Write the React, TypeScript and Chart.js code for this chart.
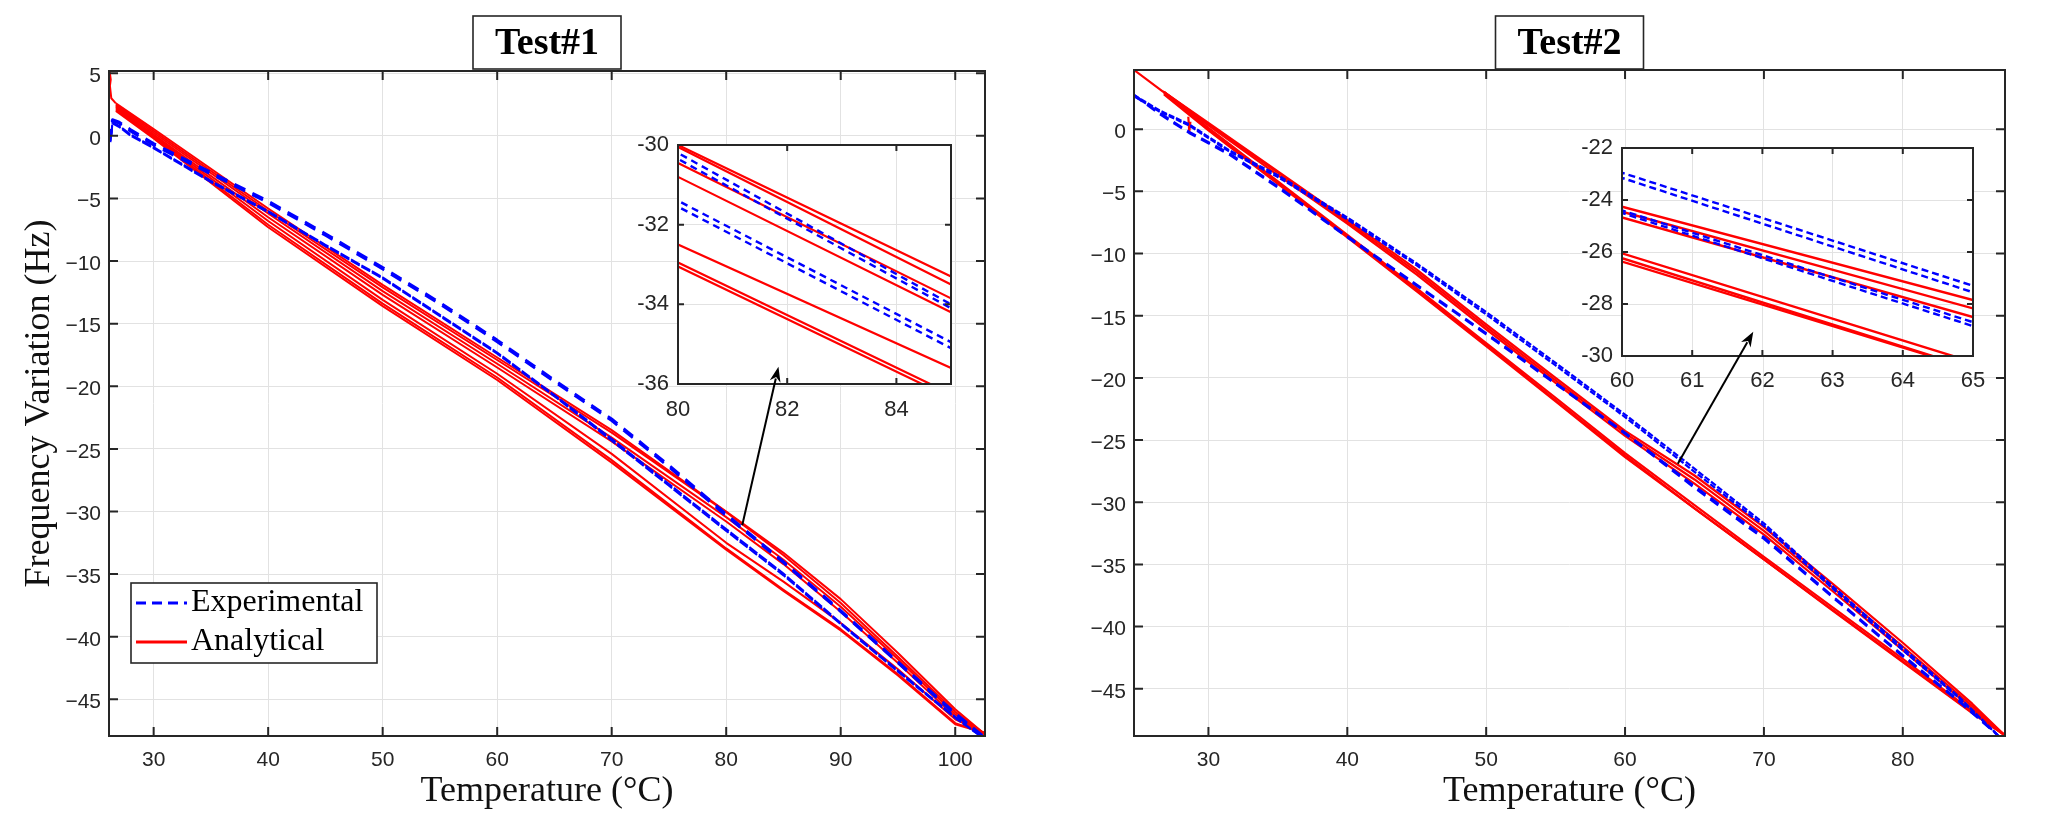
import React, { useEffect, useRef } from 'react';
import { Chart, registerables } from 'chart.js';

Chart.register(...registerables);

// ---------------- page constants ----------------
const W = 1024;
const H = 827;
const RED = '#ff0000';
const BLUE = '#0000ff';
const INK = '#262626';
const GRID = '#e2e2e2';
const SANS = "'Liberation Sans', Arial, sans-serif";
const SERIF = "'Liberation Serif', 'Times New Roman', serif";

// ---------------- Test #1 data ----------------
const T1_EXP_A_X = [26.2, 26.3, 26.25, 26.4, 27, 28, 30, 35, 40, 45, 50, 55, 60, 65, 70, 75, 80, 85, 90, 95, 100, 102.4];
const T1_EXP_A1_Y = [-0.4, 0.5, 0.9, 1.3, 1.1, 0.5, -0.6, -2.9, -5.2, -7.8, -10.5, -13.3, -16.3, -19.5, -22.6, -26.3, -30.2, -34.0, -37.9, -42.0, -46.1, -47.9];
const T1_EXP_A2_Y = [-0.5, 0.4, 0.8, 1.2, 1.0, 0.35, -0.75, -3.05, -5.35, -7.95, -10.65, -13.45, -16.45, -19.65, -22.75, -26.45, -30.35, -34.1, -38.0, -42.1, -46.2, -47.95];

const T1_EXP_B_X = [26.3, 26.4, 27, 28, 30, 35, 40, 45, 50, 55, 60, 65, 70, 75, 80, 85, 90, 95, 100, 102.3];
const T1_EXP_B1_Y = [0.1, 1.1, 0.8, 0.1, -0.9, -3.6, -6.0, -8.7, -11.3, -14.3, -17.3, -20.7, -24.2, -27.8, -31.4, -34.95, -38.9, -42.7, -46.4, -48.0];
const T1_EXP_B2_Y = [0.0, 1.0, 0.7, 0.0, -1.0, -3.7, -6.1, -8.8, -11.4, -14.4, -17.4, -20.8, -24.35, -27.95, -31.55, -35.1, -39.0, -42.8, -46.5, -48.0];

const T1_SPIKE_X = [26.15, 26.25, 26.18, 26.3, 26.7];
const T1_SPIKE_Y = [5.2, 4.5, 4.0, 3.0, 2.6];

const T1_ANA_X = [26.7, 30, 40, 50, 60, 70, 80, 85, 90, 95, 100, 102.6];
const T1_ANA_1_Y = [2.6, 0.55, -5.8, -11.9, -17.7, -23.5, -30.0, -33.3, -37.0, -41.3, -45.8, -47.8];
const T1_ANA_2_Y = [2.5, 0.4, -6.0, -12.1, -17.9, -23.7, -30.05, -33.5, -37.3, -41.6, -46.0, -47.8];
const T1_ANA_3_Y = [2.4, 0.25, -6.2, -12.4, -18.2, -24.1, -30.45, -33.85, -37.6, -41.8, -46.2, -47.8];
const T1_ANA_4_Y = [2.3, 0.1, -6.5, -12.7, -18.5, -24.4, -30.8, -34.2, -38.0, -42.1, -46.4, -47.8];
const T1_ANA_5_Y = [2.2, 0.0, -6.8, -13.1, -19.0, -25.4, -32.5, -35.6, -38.9, -42.6, -46.6, -47.7];
const T1_ANA_6_Y = [2.1, -0.1, -7.1, -13.4, -19.3, -25.9, -32.95, -36.25, -39.4, -43.0, -46.9, -47.7];
const T1_ANA_7_Y = [2.0, -0.2, -7.3, -13.6, -19.5, -26.1, -33.05, -36.35, -39.5, -43.1, -47.0, -47.7];

const T1_X_RANGE = [26.1, 102.6];
const T1_Y_RANGE = [-47.93, 5.18];
const T1_INSET_X_RANGE = [80, 85];
const T1_INSET_Y_RANGE = [-36, -30];
const T1_ARROW_FROM = [81.4, -31.1];   // main-axes coordinates
const T1_ARROW_TO = [81.84, -35.57];   // inset-axes coordinates

// ---------------- Test #2 data ----------------
const T2_EXP_X = [24.64, 26.5, 28.6, 31.5, 35, 40, 45, 50, 55, 60, 65, 70, 75, 80, 84, 86.9];
const T2_EXP_A1_Y = [2.75, 1.5, 0.4, -1.7, -3.7, -7.1, -10.8, -14.7, -18.8, -22.95, -27.3, -31.7, -36.8, -41.7, -45.6, -48.8];
const T2_EXP_A2_Y = [2.65, 1.4, 0.3, -1.8, -3.85, -7.25, -10.95, -14.9, -19.0, -23.15, -27.55, -31.9, -37.0, -41.9, -45.7, -48.8];
const T2_EXP_B1_Y = [2.75, 1.3, -0.2, -1.93, -4.6, -8.6, -12.5, -16.4, -20.4, -24.4, -28.7, -32.8, -37.6, -42.3, -45.9, -48.8];
const T2_EXP_B2_Y = [2.7, 1.2, -0.3, -2.05, -4.7, -8.7, -12.6, -16.5, -20.5, -24.5, -28.85, -32.95, -37.7, -42.4, -46.0, -48.8];

const T2_ANA_U1_X = [24.64, 26.7, 30, 35, 40, 45, 50, 55, 60, 65, 70, 75, 80, 85, 87.3];
const T2_ANA_U1_Y = [4.76, 3.05, 0.5, -3.4, -7.3, -11.3, -15.7, -20.0, -24.26, -27.85, -32.0, -36.6, -41.3, -46.2, -48.7];
const T2_ANA_X = [26.8, 30, 35, 40, 45, 50, 55, 60, 65, 70, 75, 80, 85, 87.3];
const T2_ANA_U2_Y = [3.0, 0.4, -3.5, -7.45, -11.5, -15.9, -20.2, -24.45, -28.17, -32.3, -36.9, -41.6, -46.4, -48.7];
const T2_ANA_U3_Y = [2.9, 0.3, -3.7, -7.6, -11.7, -16.1, -20.4, -24.67, -28.5, -32.6, -37.2, -41.9, -46.6, -48.7];
const T2_ANA_L1_Y = [3.0, 0.1, -4.2, -8.5, -12.8, -17.2, -21.6, -26.05, -30.24, -34.4, -38.5, -42.6, -46.8, -48.7];
const T2_ANA_L2_Y = [2.9, 0.0, -4.3, -8.6, -12.95, -17.35, -21.8, -26.24, -30.49, -34.6, -38.7, -42.8, -46.9, -48.7];
const T2_ANA_L3_Y = [2.8, -0.1, -4.4, -8.7, -13.05, -17.45, -21.9, -26.37, -30.5, -34.6, -38.75, -42.85, -46.95, -48.7];
const T2_SPIKE_X = [28.55, 28.62, 28.7];
const T2_SPIKE_Y = [1.0, -0.2, 0.6];

const T2_X_RANGE = [24.64, 87.36];
const T2_Y_RANGE = [-48.8, 4.76];
const T2_INSET_X_RANGE = [60, 65];
const T2_INSET_Y_RANGE = [-30, -22];
const T2_ARROW_FROM = [63.8, -26.9];
const T2_ARROW_TO = [61.87, -29.07];

// ---------------- helpers ----------------
type Style = { w: number; dash: number[] };
type Series = { label: string; xs: number[]; ys: number[]; color: string; main: Style; inset: Style };

const EXP = 'Experimental';
const ANA = 'Analytical';

function lineDs(s: Series, st: Style) {
  return {
    label: s.label,
    data: s.xs.map((x, i) => ({ x, y: s.ys[i] })),
    borderColor: s.color,
    backgroundColor: s.color,
    borderWidth: st.w,
    borderDash: st.dash,
    borderCapStyle: 'butt',
    borderJoinStyle: 'round',
    pointRadius: 0,
    pointHoverRadius: 0,
    fill: false,
    tension: 0,
  };
}

const minusFmt = (v: number) => (v < 0 ? '\u2212' + Math.abs(v) : String(v));

const T1_SERIES: Series[] = [
  { label: EXP, xs: T1_EXP_A_X, ys: T1_EXP_A1_Y, color: BLUE, main: { w: 2.6, dash: [12, 8] }, inset: { w: 2.4, dash: [7, 5] } },
  { label: EXP, xs: T1_EXP_A_X, ys: T1_EXP_A2_Y, color: BLUE, main: { w: 2.6, dash: [12, 8] }, inset: { w: 2.4, dash: [7, 5] } },
  { label: EXP, xs: T1_EXP_B_X, ys: T1_EXP_B1_Y, color: BLUE, main: { w: 2.0, dash: [10, 2] }, inset: { w: 2.4, dash: [7, 5] } },
  { label: EXP, xs: T1_EXP_B_X, ys: T1_EXP_B2_Y, color: BLUE, main: { w: 2.0, dash: [10, 2] }, inset: { w: 2.4, dash: [7, 5] } },
  { label: ANA, xs: T1_SPIKE_X, ys: T1_SPIKE_Y, color: RED, main: { w: 2.0, dash: [] }, inset: { w: 2.2, dash: [] } },
  { label: ANA, xs: T1_ANA_X, ys: T1_ANA_1_Y, color: RED, main: { w: 2.0, dash: [] }, inset: { w: 2.2, dash: [] } },
  { label: ANA, xs: T1_ANA_X, ys: T1_ANA_2_Y, color: RED, main: { w: 2.0, dash: [] }, inset: { w: 2.2, dash: [] } },
  { label: ANA, xs: T1_ANA_X, ys: T1_ANA_3_Y, color: RED, main: { w: 2.0, dash: [] }, inset: { w: 2.2, dash: [] } },
  { label: ANA, xs: T1_ANA_X, ys: T1_ANA_4_Y, color: RED, main: { w: 2.0, dash: [] }, inset: { w: 2.2, dash: [] } },
  { label: ANA, xs: T1_ANA_X, ys: T1_ANA_5_Y, color: RED, main: { w: 2.0, dash: [] }, inset: { w: 2.2, dash: [] } },
  { label: ANA, xs: T1_ANA_X, ys: T1_ANA_6_Y, color: RED, main: { w: 2.0, dash: [] }, inset: { w: 2.2, dash: [] } },
  { label: ANA, xs: T1_ANA_X, ys: T1_ANA_7_Y, color: RED, main: { w: 2.0, dash: [] }, inset: { w: 2.2, dash: [] } },
];

const T2_SERIES: Series[] = [
  { label: EXP, xs: T2_EXP_X, ys: T2_EXP_A1_Y, color: BLUE, main: { w: 2.2, dash: [6, 2] }, inset: { w: 2.4, dash: [7, 4] } },
  { label: EXP, xs: T2_EXP_X, ys: T2_EXP_A2_Y, color: BLUE, main: { w: 2.2, dash: [6, 2] }, inset: { w: 2.4, dash: [7, 4] } },
  { label: EXP, xs: T2_EXP_X, ys: T2_EXP_B1_Y, color: BLUE, main: { w: 2.2, dash: [10, 6] }, inset: { w: 2.4, dash: [7, 4] } },
  { label: EXP, xs: T2_EXP_X, ys: T2_EXP_B2_Y, color: BLUE, main: { w: 2.2, dash: [10, 6] }, inset: { w: 2.4, dash: [7, 4] } },
  { label: ANA, xs: T2_SPIKE_X, ys: T2_SPIKE_Y, color: RED, main: { w: 2.2, dash: [] }, inset: { w: 2.4, dash: [] } },
  { label: ANA, xs: T2_ANA_U1_X, ys: T2_ANA_U1_Y, color: RED, main: { w: 2.2, dash: [] }, inset: { w: 2.4, dash: [] } },
  { label: ANA, xs: T2_ANA_X, ys: T2_ANA_U2_Y, color: RED, main: { w: 2.2, dash: [] }, inset: { w: 2.4, dash: [] } },
  { label: ANA, xs: T2_ANA_X, ys: T2_ANA_U3_Y, color: RED, main: { w: 2.2, dash: [] }, inset: { w: 2.4, dash: [] } },
  { label: ANA, xs: T2_ANA_X, ys: T2_ANA_L1_Y, color: RED, main: { w: 2.2, dash: [] }, inset: { w: 2.4, dash: [] } },
  { label: ANA, xs: T2_ANA_X, ys: T2_ANA_L2_Y, color: RED, main: { w: 2.2, dash: [] }, inset: { w: 2.4, dash: [] } },
  { label: ANA, xs: T2_ANA_X, ys: T2_ANA_L3_Y, color: RED, main: { w: 2.2, dash: [] }, inset: { w: 2.4, dash: [] } },
];

// ---------------- plugins ----------------
const boxTicksPlugin = {
  id: 'boxTicks',
  afterDatasetsDraw(chart: any, _a: any, opts: any) {
    const { ctx, chartArea: a, scales } = chart;
    const len = opts.len;
    ctx.save();
    ctx.strokeStyle = INK;
    ctx.lineWidth = opts.lw;
    ctx.setLineDash([]);
    ctx.beginPath();
    for (const t of scales.x.ticks) {
      const px = scales.x.getPixelForValue(t.value);
      ctx.moveTo(px, a.bottom); ctx.lineTo(px, a.bottom - len);
      ctx.moveTo(px, a.top); ctx.lineTo(px, a.top + len);
    }
    for (const t of scales.y.ticks) {
      const py = scales.y.getPixelForValue(t.value);
      ctx.moveTo(a.left, py); ctx.lineTo(a.left + len, py);
      ctx.moveTo(a.right, py); ctx.lineTo(a.right - len, py);
    }
    ctx.stroke();
    ctx.strokeRect(a.left, a.top, a.right - a.left, a.bottom - a.top);
    ctx.restore();
  },
};

const frameTitlePlugin = {
  id: 'frameTitle',
  afterDraw(chart: any, _a: any, opts: any) {
    if (!opts || !opts.text) return;
    const { ctx, chartArea: a } = chart;
    const cx = (a.left + a.right) / 2;
    const x0 = cx - opts.width / 2;
    ctx.save();
    ctx.fillStyle = '#ffffff';
    ctx.fillRect(x0, opts.top, opts.width, opts.height);
    ctx.strokeStyle = INK;
    ctx.lineWidth = 1.6;
    ctx.strokeRect(x0, opts.top, opts.width, opts.height);
    ctx.font = `bold ${opts.size}px ${SERIF}`;
    ctx.fillStyle = '#000000';
    ctx.textAlign = 'center';
    ctx.textBaseline = 'middle';
    ctx.fillText(opts.text, cx, opts.top + opts.height / 2 + 2);
    ctx.restore();
  },
};

const boxLegendPlugin = {
  id: 'boxLegend',
  afterDraw(chart: any, _a: any, opts: any) {
    if (!opts || !opts.show) return;
    const { ctx } = chart;
    const seen: string[] = [];
    const items: any[] = [];
    chart.data.datasets.forEach((d: any) => {
      if (seen.indexOf(d.label) < 0) { seen.push(d.label); items.push(d); }
    });
    ctx.save();
    ctx.fillStyle = '#ffffff';
    ctx.fillRect(opts.left, opts.top, opts.width, opts.height);
    ctx.strokeStyle = INK;
    ctx.lineWidth = 1.6;
    ctx.strokeRect(opts.left, opts.top, opts.width, opts.height);
    ctx.font = `${opts.size}px ${SERIF}`;
    ctx.textBaseline = 'middle';
    ctx.textAlign = 'left';
    items.forEach((d, i) => {
      const y = opts.rows[i];
      ctx.strokeStyle = d.borderColor;
      ctx.lineWidth = 3;
      ctx.setLineDash(d.label === EXP ? [10, 6] : []);
      ctx.beginPath();
      ctx.moveTo(opts.sx0, y);
      ctx.lineTo(opts.sx1, y);
      ctx.stroke();
      ctx.setLineDash([]);
      ctx.fillStyle = '#000000';
      ctx.fillText(d.label, opts.tx, y);
    });
    ctx.restore();
  },
};

const insetBgPlugin = {
  id: 'insetBg',
  beforeDraw(chart: any) {
    const { ctx, chartArea: a } = chart;
    ctx.save();
    ctx.fillStyle = '#ffffff';
    ctx.fillRect(a.left, a.top, a.right - a.left, a.bottom - a.top);
    ctx.restore();
  },
};

function makeArrowPlugin(main: any, from: number[], to: number[]) {
  return {
    id: 'arrow',
    afterDraw(chart: any) {
      const { ctx } = chart;
      const x0 = main.scales.x.getPixelForValue(from[0]);
      const y0 = main.scales.y.getPixelForValue(from[1]);
      const x1 = chart.scales.x.getPixelForValue(to[0]);
      const y1 = chart.scales.y.getPixelForValue(to[1]);
      const ang = Math.atan2(y1 - y0, x1 - x0);
      const hl = 15, hw = 5.5;
      ctx.save();
      ctx.strokeStyle = '#000000';
      ctx.fillStyle = '#000000';
      ctx.lineWidth = 2;
      ctx.beginPath();
      ctx.moveTo(x0, y0);
      ctx.lineTo(x1 - Math.cos(ang) * hl * 0.8, y1 - Math.sin(ang) * hl * 0.8);
      ctx.stroke();
      ctx.beginPath();
      ctx.moveTo(x1, y1);
      ctx.lineTo(x1 - Math.cos(ang) * hl - Math.sin(ang) * hw, y1 - Math.sin(ang) * hl + Math.cos(ang) * hw);
      ctx.lineTo(x1 - Math.cos(ang) * hl * 0.7, y1 - Math.sin(ang) * hl * 0.7);
      ctx.lineTo(x1 - Math.cos(ang) * hl + Math.sin(ang) * hw, y1 - Math.sin(ang) * hl - Math.cos(ang) * hw);
      ctx.closePath();
      ctx.fill();
      ctx.restore();
    },
  };
}

// ---------------- panel specs ----------------
type Area = { left: number; right: number; top: number; bottom: number };
type PanelSpec = {
  offsetX: number;
  area: Area;
  xRange: number[];
  yRange: number[];
  title: string;
  yTitle: string;
  legend: boolean;
  series: Series[];
  inset: { area: Area; xRange: number[]; yRange: number[]; xStep: number; yStep: number; xPad: number; yPad: number };
  arrowFrom: number[];
  arrowTo: number[];
};

const PANELS: PanelSpec[] = [
  {
    offsetX: 0,
    area: { left: 109, right: 985, top: 71, bottom: 736 },
    xRange: T1_X_RANGE,
    yRange: T1_Y_RANGE,
    title: 'Test#1',
    yTitle: 'Frequency Variation (Hz)',
    legend: true,
    series: T1_SERIES,
    inset: { area: { left: 678, right: 951, top: 145, bottom: 384 }, xRange: T1_INSET_X_RANGE, yRange: T1_INSET_Y_RANGE, xStep: 2, yStep: 2, xPad: 13, yPad: 9 },
    arrowFrom: T1_ARROW_FROM,
    arrowTo: T1_ARROW_TO,
  },
  {
    offsetX: 1024,
    area: { left: 110, right: 981, top: 70, bottom: 736 },
    xRange: T2_X_RANGE,
    yRange: T2_Y_RANGE,
    title: 'Test#2',
    yTitle: '',
    legend: false,
    series: T2_SERIES,
    inset: { area: { left: 598, right: 949, top: 148, bottom: 356 }, xRange: T2_INSET_X_RANGE, yRange: T2_INSET_Y_RANGE, xStep: 1, yStep: 2, xPad: 12, yPad: 9 },
    arrowFrom: T2_ARROW_FROM,
    arrowTo: T2_ARROW_TO,
  },
];

function mainConfig(p: PanelSpec): any {
  const a = p.area;
  return {
    type: 'line',
    data: { datasets: p.series.map((s) => lineDs(s, s.main)) },
    options: {
      animation: false,
      responsive: false,
      events: [],
      layout: { padding: { left: 0, top: a.top, right: W - a.right, bottom: 0 } },
      plugins: {
        legend: { display: false },
        tooltip: { enabled: false },
        title: { display: false },
        boxTicks: { len: 9, lw: 2 },
        frameTitle: { text: p.title, top: 16, height: 53, width: 148, size: 38 },
        boxLegend: { show: p.legend, left: 131, top: 583, width: 246, height: 80, sx0: 136, sx1: 187, tx: 191, rows: [603, 642], size: 32 },
      },
      scales: {
        x: {
          type: 'linear',
          min: p.xRange[0],
          max: p.xRange[1],
          afterFit: (s: any) => { s.height = H - a.bottom; },
          ticks: { stepSize: 10, includeBounds: false, autoSkip: false, maxRotation: 0, font: { family: SANS, size: 21 }, color: INK, padding: 12, callback: minusFmt },
          grid: { color: GRID, lineWidth: 1, drawTicks: false },
          border: { display: false },
          title: { display: true, text: 'Temperature (°C)', font: { family: SERIF, size: 36 }, color: '#111111', padding: { top: 0, bottom: 14 } },
        },
        y: {
          type: 'linear',
          min: p.yRange[0],
          max: p.yRange[1],
          afterFit: (s: any) => { s.width = a.left; },
          ticks: { stepSize: 5, includeBounds: false, autoSkip: false, font: { family: SANS, size: 21 }, color: INK, padding: 8, labelOffset: 3, callback: minusFmt },
          grid: { color: GRID, lineWidth: 1, drawTicks: false },
          border: { display: false },
          title: { display: !!p.yTitle, text: p.yTitle, font: { family: SERIF, size: 36 }, color: '#111111', padding: { top: 18, bottom: 0 } },
        },
      },
    },
    plugins: [boxTicksPlugin, frameTitlePlugin, boxLegendPlugin],
  };
}

function insetConfig(p: PanelSpec, main: any): any {
  const ins = p.inset;
  const a = ins.area;
  const yW = 60;
  const xH = 50;
  return {
    type: 'line',
    data: { datasets: p.series.map((s) => lineDs(s, s.inset)) },
    options: {
      animation: false,
      responsive: false,
      events: [],
      layout: { padding: { left: a.left - yW, top: a.top, right: W - a.right, bottom: H - a.bottom - xH } },
      plugins: {
        legend: { display: false },
        tooltip: { enabled: false },
        title: { display: false },
        boxTicks: { len: 6, lw: 2 },
      },
      scales: {
        x: {
          type: 'linear',
          min: ins.xRange[0],
          max: ins.xRange[1],
          afterFit: (s: any) => { s.height = xH; },
          ticks: { stepSize: ins.xStep, includeBounds: false, autoSkip: false, maxRotation: 0, font: { family: SANS, size: 22 }, color: INK, padding: ins.xPad },
          grid: { color: GRID, lineWidth: 1, drawTicks: false },
          border: { display: false },
        },
        y: {
          type: 'linear',
          min: ins.yRange[0],
          max: ins.yRange[1],
          afterFit: (s: any) => { s.width = yW; },
          ticks: { stepSize: ins.yStep, includeBounds: false, autoSkip: false, font: { family: SANS, size: 22 }, color: INK, padding: ins.yPad },
          grid: { color: GRID, lineWidth: 1, drawTicks: false },
          border: { display: false },
        },
      },
    },
    plugins: [insetBgPlugin, boxTicksPlugin, makeArrowPlugin(main, p.arrowFrom, p.arrowTo)],
  };
}

function Panel({ spec }: { spec: PanelSpec }) {
  const mainRef = useRef<HTMLCanvasElement>(null);
  const insetRef = useRef<HTMLCanvasElement>(null);
  useEffect(() => {
    const main = new Chart(mainRef.current as HTMLCanvasElement, mainConfig(spec));
    const inset = new Chart(insetRef.current as HTMLCanvasElement, insetConfig(spec, main));
    return () => {
      inset.destroy();
      main.destroy();
    };
  }, [spec]);
  const cs: React.CSSProperties = { position: 'absolute', left: 0, top: 0, width: W, height: H };
  return (
    <div style={{ position: 'absolute', left: spec.offsetX, top: 0, width: W, height: H }}>
      <canvas ref={mainRef} width={W} height={H} style={cs} />
      <canvas ref={insetRef} width={W} height={H} style={cs} />
    </div>
  );
}

export default function App() {
  return (
    <div style={{ position: 'fixed', left: 0, top: 0, width: 2 * W, height: H, background: '#ffffff', overflow: 'hidden' }}>
      {PANELS.map((p) => (
        <Panel key={p.title} spec={p} />
      ))}
    </div>
  );
}
